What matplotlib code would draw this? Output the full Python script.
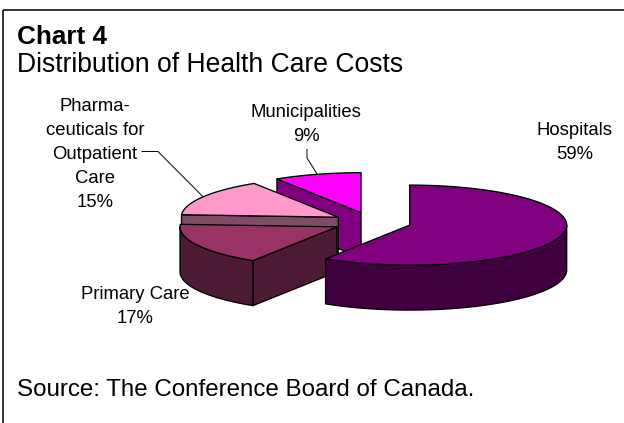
import numpy as np
import matplotlib.pyplot as plt
from matplotlib.patches import Polygon

# health care cost shares (percent), clockwise from 12 o'clock
categories = ["Hospitals", "Primary Care", "Pharmaceuticals for Outpatient Care", "Municipalities"]
shares = [59, 17, 15, 9]
name_lines = [
    ["Hospitals"],
    ["Primary Care"],
    ["Pharma-", "ceuticals for", "Outpatient", "Care"],
    ["Municipalities"],
]
top_colors = ["#800080", "#993366", "#FF99CC", "#FF00FF"]
side_colors = ["#400040", "#4D1A33", "#804D66", "#800080"]

plt.rcParams["font.family"] = ["Liberation Sans", "DejaVu Sans"]

fig = plt.figure(figsize=(6.24, 4.23), dpi=100)
ax = fig.add_axes([0, 0, 1, 1])
ax.set_xlim(0, 624)
ax.set_ylim(423, 0)
ax.axis("off")

# pie geometry in pixel space
cx, cy = 372, 222.3
rx, ry = 157, 40
depth = 45
explode = 0.25

bounds = np.concatenate([[0], np.cumsum(shares)]) / sum(shares) * 360


def point(theta, ox, oy, dz=0):
    t = np.radians(theta)
    return cx + ox + rx * np.sin(t), cy + oy - ry * np.cos(t) + dz


def arc(t0, t1, ox, oy, dz=0):
    ts = np.linspace(t0, t1, 80)
    xs, ys = point(ts, ox, oy, dz)
    return np.column_stack([xs, ys])


def patch(pts, color):
    ax.add_patch(Polygon(pts, closed=True, facecolor=color, edgecolor="black",
                         linewidth=0.95, joinstyle="round"))


offsets = {}
for i in [3, 2, 1, 0]:
    a0, a1 = bounds[i], bounds[i + 1]
    mid = np.radians((a0 + a1) / 2)
    ox = explode * rx * np.sin(mid)
    oy = -explode * ry * np.cos(mid)
    offsets[i] = (ox, oy)
    apex = (cx + ox, cy + oy)

    # radial side faces that face the viewer
    for edge, normal in [(a0, a0 - 90), (a1, a1 + 90)]:
        if np.cos(np.radians(normal)) < -1e-6:
            ex, ey = point(edge, ox, oy)
            face = [apex, (ex, ey), (ex, ey + depth), (apex[0], apex[1] + depth)]
            patch(face, side_colors[i])

    # front part of the outer rim
    lo, hi = max(a0, 90), min(a1, 270)
    if lo < hi:
        rim = np.vstack([arc(lo, hi, ox, oy), arc(hi, lo, ox, oy, depth)])
        patch(rim, side_colors[i])

    top = np.vstack([[apex], arc(a0, a1, ox, oy)])
    patch(top, top_colors[i])

# frame lines (top and left only)
ax.plot([2.5, 624], [10.5, 10.5], color="black", lw=1.1, solid_capstyle="butt")
ax.plot([2.5, 2.5], [10.5, 423], color="black", lw=1.1, solid_capstyle="butt")

ax.text(17, 44, "Chart 4", fontsize=18.8, fontweight="bold", va="baseline", ha="left")
ax.text(17, 72, "Distribution of Health Care Costs", fontsize=19.1, va="baseline", ha="left")
ax.text(17, 396, "Source: The Conference Board of Canada.", fontsize=17.4,
        va="baseline", ha="left")

# data labels: centre x, first baseline
label_pos = [(575, 135), (135, 299), (95, 110.7), (306, 116.7)]
step = 24
for i, (lx, ly) in enumerate(label_pos):
    lines = name_lines[i] + [f"{shares[i]}%"]
    for k, line in enumerate(lines):
        ax.text(lx, ly + k * step, line, fontsize=13.3, ha="center", va="baseline")

# leader lines to the pharmaceuticals and municipalities slices
for i, elbow in [(2, [(142, 151.5), (158, 151.5)]), (3, [(307, 149.5), (307, 158)])]:
    ox, oy = offsets[i]
    tx, ty = point((bounds[i] + bounds[i + 1]) / 2, ox, oy)
    xs = [p[0] for p in elbow] + [tx]
    ys = [p[1] for p in elbow] + [ty]
    ax.plot(xs, ys, color="black", lw=0.7)

fig.savefig("out.png", dpi=100)
